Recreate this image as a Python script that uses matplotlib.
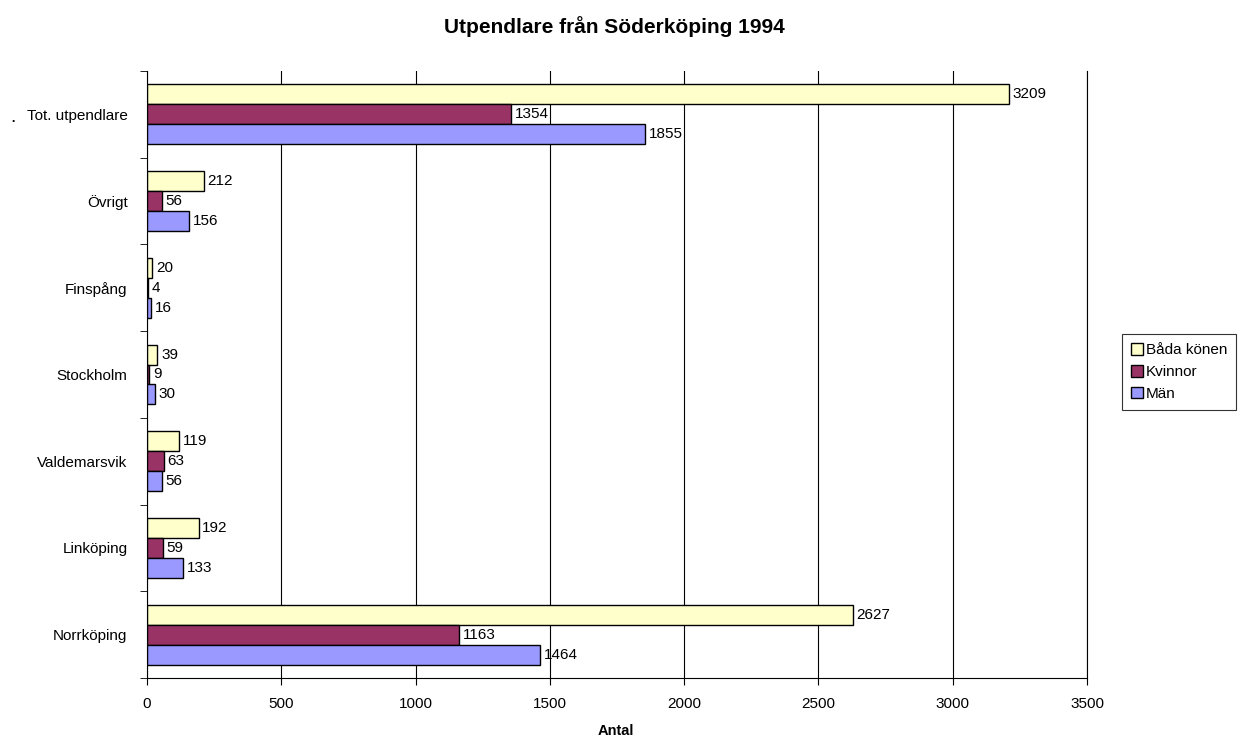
import numpy as np
import matplotlib.pyplot as plt
from matplotlib.ticker import FixedLocator

plt.rcParams['font.family'] = ['Liberation Sans', 'DejaVu Sans']

# Data (bottom to top)
places = ['Norrköping', 'Linköping', 'Valdemarsvik', 'Stockholm', 'Finspång', 'Övrigt', 'Tot. utpendlare']
bada = [2627, 192, 119, 39, 20, 212, 3209]
kvinnor = [1163, 59, 63, 9, 4, 56, 1354]
man = [1464, 133, 56, 30, 16, 156, 1855]

series = [('Båda könen', bada, '#FFFFCC'),
          ('Kvinnor', kvinnor, '#993366'),
          ('Män', man, '#9999FF')]

fig = plt.figure(figsize=(12.42, 7.38), dpi=100)
ax = fig.add_axes([147/1242, 1 - 678/738, 940/1242, 607/738])

y = np.arange(len(places))
h = 0.23
offsets = [h, 0, -h]
for (name, vals, col), off in zip(series, offsets):
    bars = ax.barh(y + off, vals, height=h, color=col, edgecolor='black', linewidth=1.0, label=name)
    for b, v in zip(bars, vals):
        ax.text(b.get_width() + 14, b.get_y() + b.get_height() / 2, str(v),
                va='center', ha='left', fontsize=11)

ax.set_xlim(0, 3500)
ax.set_ylim(-0.5, len(places) - 0.5)
ax.set_xticks(np.arange(0, 3501, 500))
ax.set_yticks(y)
ax.set_yticklabels(places, fontsize=11)
ax.yaxis.set_minor_locator(FixedLocator(np.arange(-0.5, len(places), 1)))
ax.tick_params(axis='y', which='major', length=0, pad=14)
ax.tick_params(axis='y', which='minor', length=5, direction='out')
ax.tick_params(axis='x', length=5, direction='out', labelsize=11, pad=9)
ax.xaxis.grid(True, color='black', linewidth=0.8)
ax.axvline(3500, color='black', linewidth=0.8, clip_on=False, zorder=0.5)
ax.set_axisbelow(True)
for s in ['top', 'right']:
    ax.spines[s].set_visible(False)

fig.text(616/1242, 1 - 731/738, 'Antal', ha='center', va='center', fontsize=10.5, fontweight='bold')
fig.text(614/1242, 1 - 27/738, 'Utpendlare från Söderköping 1994', ha='center', va='center',
         fontsize=15, fontweight='bold')
fig.text(13/1242, 1 - 118/738, '.', ha='center', va='center', fontsize=14)

leg = ax.legend(loc='upper left', bbox_to_anchor=(1122/1242, 1 - 334/738),
                bbox_transform=fig.transFigure, frameon=True, fancybox=False,
                edgecolor='black', fontsize=11, handlelength=0.8, handleheight=0.8,
                handletextpad=0.15, borderpad=0.6, labelspacing=0.5, borderaxespad=0)
leg.get_frame().set_linewidth(0.8)

fig.savefig('out.png', dpi=100)
